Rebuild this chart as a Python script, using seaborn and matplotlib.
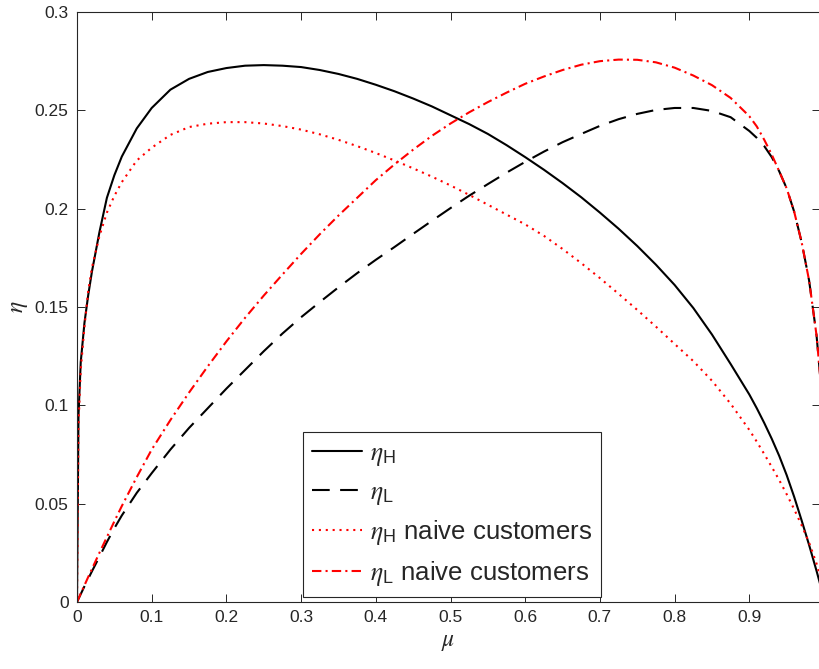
import pandas as pd
import seaborn as sns
import matplotlib.pyplot as plt

# values
mu = [0, 0.002, 0.005, 0.01, 0.015, 0.02, 0.03, 0.04, 0.05, 0.06, 0.08, 0.1,
      0.125, 0.15, 0.175, 0.2, 0.225, 0.25, 0.275, 0.3, 0.325, 0.35, 0.375, 0.4,
      0.425, 0.45, 0.475, 0.5, 0.525, 0.55, 0.575, 0.6, 0.625, 0.65, 0.675, 0.7,
      0.725, 0.75, 0.775, 0.8, 0.825, 0.85, 0.875, 0.9,
      0.91, 0.92, 0.93, 0.94, 0.95, 0.96, 0.97, 0.98, 0.99, 0.995]

eta_H = [0, 0.095, 0.122, 0.142, 0.156, 0.168, 0.188, 0.2055, 0.217, 0.2265, 0.2408, 0.2512,
         0.2605, 0.266, 0.2695, 0.2715, 0.2727, 0.273, 0.2727, 0.272, 0.2705, 0.2685,
         0.266, 0.263, 0.2597, 0.256, 0.252, 0.2475, 0.243, 0.238, 0.2323, 0.2262,
         0.2198, 0.213, 0.2058, 0.198, 0.1898, 0.181, 0.1715, 0.1612, 0.1495, 0.136,
         0.121, 0.1055,
         0.0985, 0.091, 0.083, 0.0743, 0.0645, 0.0535, 0.0415, 0.029, 0.0158, 0.0088]

eta_L = [0, 0.0016, 0.004, 0.008, 0.0118, 0.0156, 0.023, 0.0305, 0.0375, 0.044, 0.0555, 0.0655,
         0.0775, 0.0885, 0.0985, 0.1085, 0.118, 0.1275, 0.1365, 0.1448, 0.1525, 0.16,
         0.1672, 0.174, 0.1805, 0.1872, 0.1938, 0.2003, 0.2066, 0.2125, 0.2183, 0.2238,
         0.229, 0.2338, 0.238, 0.2421, 0.2455, 0.2482, 0.2502, 0.2512, 0.2512, 0.2497,
         0.2465, 0.2395,
         0.236, 0.2318, 0.2262, 0.219, 0.2103, 0.1985, 0.183, 0.1635, 0.1355, 0.114]

eta_H_naive = [0, 0.09, 0.118, 0.14, 0.158, 0.170, 0.186, 0.198, 0.2065, 0.2135, 0.2245, 0.231,
               0.2375, 0.2415, 0.2432, 0.244, 0.244, 0.2433, 0.242, 0.2402, 0.2378, 0.235,
               0.2318, 0.2283, 0.2245, 0.2205, 0.2163, 0.2118, 0.207, 0.202, 0.197, 0.192,
               0.1862, 0.1795, 0.1723, 0.1647, 0.1567, 0.1485, 0.140, 0.1312, 0.1225, 0.1125,
               0.1008, 0.0875,
               0.0815, 0.0752, 0.0687, 0.062, 0.0548, 0.0472, 0.039, 0.0302, 0.0195, 0.0128]

eta_L_naive = [0, 0.0017, 0.0043, 0.0085, 0.0127, 0.0168, 0.025, 0.033, 0.041, 0.0488, 0.0635, 0.0775,
               0.0925, 0.1065, 0.1198, 0.1325, 0.1445, 0.1558, 0.1665, 0.177, 0.187, 0.1965,
               0.2055, 0.2145, 0.2225, 0.23, 0.237, 0.2433, 0.249, 0.2542, 0.259, 0.2635,
               0.2672, 0.2705, 0.2732, 0.275, 0.2758, 0.2757, 0.2744, 0.2717, 0.2677, 0.2628,
               0.2563, 0.247,
               0.2418, 0.235, 0.2275, 0.219, 0.2103, 0.1985, 0.183, 0.1635, 0.1355, 0.114]

labels = [r'$\eta_\mathrm{H}$', r'$\eta_\mathrm{L}$',
          r'$\eta_\mathrm{H}$ naive customers', r'$\eta_\mathrm{L}$ naive customers']
series = [eta_H, eta_L, eta_H_naive, eta_L_naive]

rows = []
for lab, vals in zip(labels, series):
    for m, v in zip(mu, vals):
        rows.append({'mu': m, 'eta': v, 'series': lab})
df = pd.DataFrame(rows)

sns.set_style('ticks')
plt.rcParams['font.family'] = ['Liberation Sans', 'DejaVu Sans']
plt.rcParams['mathtext.fontset'] = 'custom'
plt.rcParams['mathtext.rm'] = 'Liberation Sans'
plt.rcParams['mathtext.it'] = 'STIXGeneral:italic'

palette = {labels[0]: 'black', labels[1]: 'black', labels[2]: 'red', labels[3]: 'red'}
dashes = {labels[0]: '', labels[1]: (8.5, 5), labels[2]: (1, 2.3), labels[3]: (4.5, 2, 1, 2)}

fig = plt.figure(figsize=(8.2, 6.69), dpi=100)
ax = fig.add_axes([77 / 820, 67 / 669, 743 / 820, 590 / 669])

sns.lineplot(data=df, x='mu', y='eta', hue='series', style='series', palette=palette,
             dashes=dashes, hue_order=labels, style_order=labels, linewidth=1.5,
             legend=False, ax=ax, estimator=None)

ax.set_xlim(0, 0.9946)
ax.set_ylim(0, 0.3)
ax.set_xticks([0, 0.1, 0.2, 0.3, 0.4, 0.5, 0.6, 0.7, 0.8, 0.9])
ax.set_xticklabels(['0', '0.1', '0.2', '0.3', '0.4', '0.5', '0.6', '0.7', '0.8', '0.9'])
ax.set_yticks([0, 0.05, 0.1, 0.15, 0.2, 0.25, 0.3])
ax.set_yticklabels(['0', '0.05', '0.1', '0.15', '0.2', '0.25', '0.3'])

gray = '#262626'
for s in ax.spines.values():
    s.set_visible(True)
    s.set_color(gray)
    s.set_linewidth(0.8)
ax.tick_params(direction='in', top=True, right=True, length=5.5, width=0.7,
               colors=gray, labelsize=12.5, pad=6)

ax.set_xlabel(r'$\mu$', fontsize=17, color=gray, labelpad=4)
ax.set_ylabel(r'$\eta$', fontsize=17, color=gray, labelpad=3)

leg = ax.legend(ax.lines, labels, loc='lower left', bbox_to_anchor=(0.304, 0.0085),
                borderaxespad=0, fontsize=18.5, handlelength=1.95, labelspacing=0.45,
                fancybox=False, framealpha=1, edgecolor=gray, borderpad=0.35,
                handletextpad=0.3)
leg.get_frame().set_linewidth(0.8)

plt.savefig('out.png', dpi=100)
